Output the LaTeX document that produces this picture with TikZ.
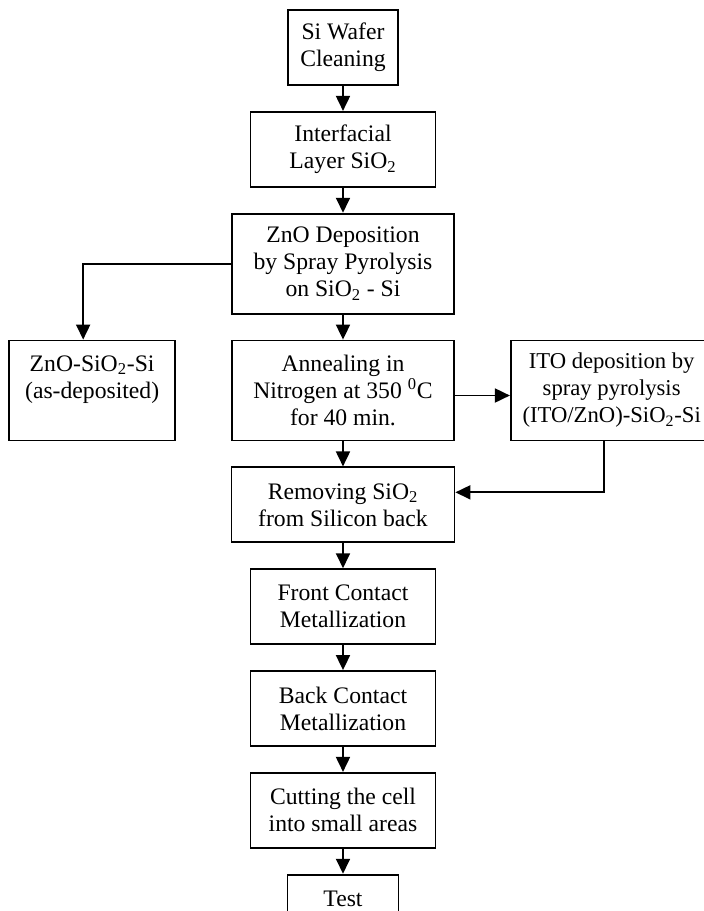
\documentclass[tikz,border=0pt]{standalone}
\usepackage{fontspec}
\setmainfont{Liberation Serif}
\usepackage{tikz}
\usetikzlibrary{arrows.meta, positioning}

\begin{document}
\begin{tikzpicture}[
  node distance=15pt,
  box/.style={draw, line width=1.1pt, align=center, inner sep=2pt,
              minimum height=45pt, font=\fontsize{14.2pt}{16.2pt}\selectfont},
  tall/.style={box, minimum height=60pt},
  arr/.style={-{Triangle[length=9pt,width=8.4pt]}, line width=1.1pt}]
\useasboundingbox (-205.8pt,28.5pt) rectangle (216.6pt,-518.1pt);
\node[box, minimum width=66pt] (clean) {Si Wafer\\Cleaning};
\node[box, minimum width=111pt, below=of clean] (interf) {Interfacial\\Layer SiO\textsubscript{2}};
\node[tall, minimum width=133.2pt, below=of interf] (zno) {ZnO Deposition\\
  by Spray Pyrolysis\\on SiO\textsubscript{2} - Si};
\node[tall, minimum width=133.2pt, below=of zno] (anneal) {Annealing in\\
  Nitrogen at 350 \textsuperscript{0}C\\for 40 min.};
\node[tall, minimum width=99.6pt, left=33pt of anneal] (asdep) {ZnO-SiO\textsubscript{2}-Si\\
  (as-deposited)\\~};
\node[tall, minimum width=121pt, right=33pt of anneal,
      font=\fontsize{13.6pt}{16.2pt}\selectfont] (ito) {ITO deposition by\\
  spray pyrolysis\\(ITO/ZnO)-SiO\textsubscript{2}-Si};
\node[box, minimum width=133.8pt, below=of anneal] (remove) {Removing SiO\textsubscript{2}\\from Silicon back};
\node[box, minimum width=111pt, below=of remove] (front) {Front Contact\\Metallization};
\node[box, minimum width=111pt, below=of front] (back) {Back Contact\\Metallization};
\node[box, minimum width=111pt, below=of back] (cut) {Cutting the cell\\into small areas};
\node[box, minimum width=66.6pt, minimum height=29.5pt, below=of cut] (test) {Test};
\draw[arr] (clean) -- (interf);
\draw[arr] (interf) -- (zno);
\draw[arr] (zno) -- (anneal);
\draw[arr] (zno.west) -| ([xshift=-5.4pt]asdep.north);
\draw[arr] ([yshift=-3pt]anneal.east) -- ([yshift=-3pt]ito.west);
\draw[arr] ([xshift=-4.8pt]ito.south) |- ([yshift=7.5pt]remove.east);
\draw[arr] (anneal) -- (remove);
\draw[arr] (remove) -- (front);
\draw[arr] (front) -- (back);
\draw[arr] (back) -- (cut);
\draw[arr] (cut) -- (test);
\end{tikzpicture}
\end{document}
